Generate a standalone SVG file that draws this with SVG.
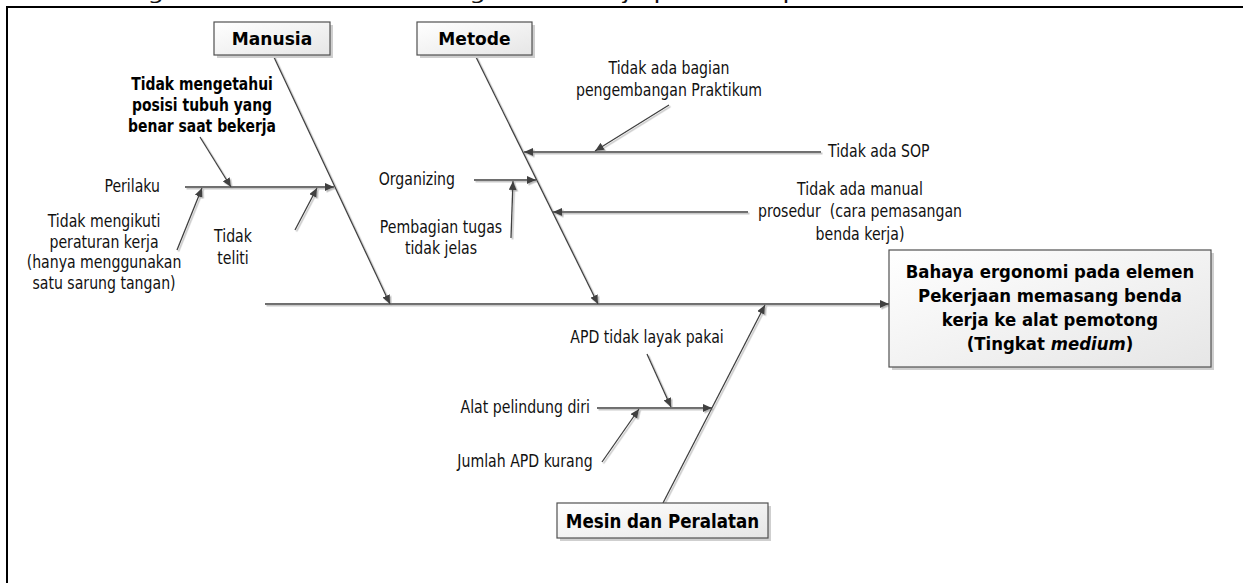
<svg xmlns="http://www.w3.org/2000/svg" width="1243" height="583" viewBox="0 0 1243 583">
<style>
.t{font-family:"DejaVu Sans","Liberation Sans",sans-serif;font-size:17px;fill:#111}
.b{font-family:"DejaVu Sans","Liberation Sans",sans-serif;font-weight:bold;fill:#000}
.c{stroke:#3f3f3f;stroke-width:1.3;fill:none;marker-end:url(#ah)}
.box{fill:url(#g);stroke:#505050;stroke-width:1.2}
.sh{fill:#cfcfcf}
</style>
<defs>
<linearGradient id="g" x1="0" y1="0" x2="1" y2="1">
<stop offset="0" stop-color="#ffffff"/>
<stop offset="1" stop-color="#e6e6e6"/>
</linearGradient>
<marker id="ah" markerWidth="9" markerHeight="8" refX="9" refY="4" orient="auto" markerUnits="userSpaceOnUse">
<path d="M0,0 L9,4 L0,8 z" fill="#3f3f3f"/>
</marker>
<filter id="ds" x="-5%" y="-5%" width="110%" height="110%">
<feDropShadow dx="1.5" dy="1.5" stdDeviation="0.4" flood-color="#b8b8b8"/>
</filter>
</defs>
<rect width="1243" height="583" fill="#fff"/>
<text class="t" font-size="16" x="105" y="-1" textLength="850" lengthAdjust="spacingAndGlyphs">Diagram Fishbone Memasang benda kerja pada alat pada Sumber</text>
<path d="M7,583 V7 H1243" stroke="#000" stroke-width="2" fill="none"/>

<g id="connectors" filter="url(#ds)">
<line class="c" x1="265" y1="304" x2="889" y2="304"/>
<line class="c" x1="273" y1="55" x2="390" y2="304"/>
<line class="c" x1="475" y1="55" x2="598" y2="304"/>
<line class="c" x1="663" y1="503" x2="765" y2="305"/>
<line class="c" x1="185" y1="187" x2="334" y2="187"/>
<line class="c" x1="200" y1="137" x2="231" y2="187"/>
<line class="c" x1="177" y1="250" x2="202" y2="188"/>
<line class="c" x1="295" y1="230" x2="317" y2="188"/>
<line class="c" x1="821" y1="152" x2="524" y2="152"/>
<line class="c" x1="669" y1="105" x2="595" y2="151"/>
<line class="c" x1="474" y1="180" x2="536" y2="180"/>
<line class="c" x1="511" y1="238" x2="513" y2="181"/>
<line class="c" x1="748" y1="212" x2="553" y2="212"/>
<line class="c" x1="597" y1="408" x2="712" y2="408"/>
<line class="c" x1="647" y1="354" x2="671" y2="407"/>
<line class="c" x1="602" y1="462" x2="639" y2="409"/>
</g>

<g id="manusia">
<rect class="sh" x="217" y="25" width="116" height="33"/>
<rect class="box" x="214" y="22" width="116" height="33"/>
<text class="b" font-size="18" text-anchor="middle" transform="translate(272 45) scale(.95 1)">Manusia</text>
</g>
<g id="metode">
<rect class="sh" x="420" y="25" width="115" height="33"/>
<rect class="box" x="417" y="22" width="115" height="33"/>
<text class="b" font-size="18" text-anchor="middle" transform="translate(474.5 45) scale(.95 1)">Metode</text>
</g>
<g id="mesin">
<rect class="sh" x="560" y="506" width="211" height="35"/>
<rect class="box" x="557" y="503" width="211" height="35"/>
<text class="b" font-size="19" text-anchor="middle" transform="translate(662.5 528) scale(.88 1)">Mesin dan Peralatan</text>
</g>
<g id="effect">
<rect class="sh" x="892" y="253" width="322" height="117"/>
<rect class="box" x="889" y="250" width="322" height="117"/>
<text class="b" font-size="18" text-anchor="middle" transform="translate(1050 278) scale(.92 1)"><tspan x="0" y="0">Bahaya ergonomi pada elemen</tspan><tspan x="0" y="24">Pekerjaan memasang benda</tspan><tspan x="0" y="48">kerja ke alat pemotong</tspan><tspan x="0" y="72">(Tingkat <tspan font-style="italic">medium</tspan>)</tspan></text>
</g>

<g id="tidak-mengetahui">
<text class="b" font-size="17" text-anchor="middle" transform="translate(202 90) scale(.82 1)"><tspan x="0" y="0">Tidak mengetahui</tspan><tspan x="0" y="21">posisi tubuh yang</tspan><tspan x="0" y="42">benar saat bekerja</tspan></text>
</g>
<g id="perilaku">
<text class="t" text-anchor="end" transform="translate(160 192) scale(.83 1)">Perilaku</text>
</g>
<g id="tidak-mengikuti">
<text class="t" text-anchor="middle" transform="translate(104 227) scale(.83 1)"><tspan x="0" y="0">Tidak mengikuti</tspan><tspan x="0" y="21">peraturan kerja</tspan><tspan x="0" y="41">(hanya menggunakan</tspan><tspan x="0" y="62">satu sarung tangan)</tspan></text>
</g>
<g id="tidak-teliti">
<text class="t" text-anchor="middle" transform="translate(233 242) scale(.83 1)"><tspan x="0" y="0">Tidak</tspan><tspan x="0" y="22">teliti</tspan></text>
</g>
<g id="organizing">
<text class="t" text-anchor="end" transform="translate(455 185) scale(.83 1)">Organizing</text>
</g>
<g id="pembagian">
<text class="t" text-anchor="middle" transform="translate(441 233) scale(.83 1)"><tspan x="0" y="0">Pembagian tugas</tspan><tspan x="0" y="21">tidak jelas</tspan></text>
</g>
<g id="bagian">
<text class="t" text-anchor="middle" transform="translate(669 74) scale(.83 1)"><tspan x="0" y="0">Tidak ada bagian</tspan><tspan x="0" y="22">pengembangan Praktikum</tspan></text>
</g>
<g id="sop">
<text class="t" transform="translate(828 157) scale(.83 1)">Tidak ada SOP</text>
</g>
<g id="manual">
<text class="t" text-anchor="middle" style="white-space:pre" transform="translate(860 195) scale(.83 1)"><tspan x="0" y="0">Tidak ada manual</tspan><tspan x="0" y="22">prosedur  (cara pemasangan</tspan><tspan x="0" y="45">benda kerja)</tspan></text>
</g>
<g id="apd-layak">
<text class="t" text-anchor="middle" transform="translate(647 343) scale(.83 1)">APD tidak layak pakai</text>
</g>
<g id="alat">
<text class="t" text-anchor="end" transform="translate(590 413) scale(.83 1)">Alat pelindung diri</text>
</g>
<g id="jumlah">
<text class="t" text-anchor="middle" transform="translate(525 467) scale(.83 1)">Jumlah APD kurang</text>
</g>
</svg>
